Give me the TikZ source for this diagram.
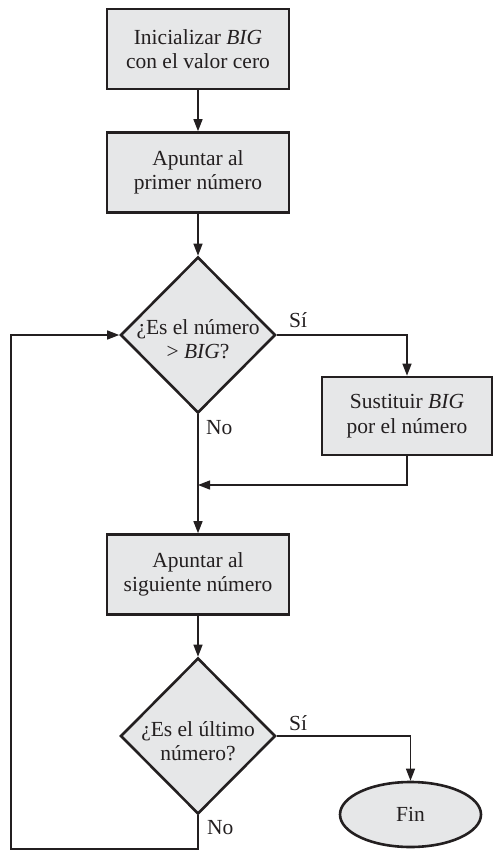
\documentclass[tikz,border=0pt]{standalone}
\usepackage{fontspec}
\setmainfont{Liberation Serif}
\usetikzlibrary{arrows.meta,shapes.geometric}
\definecolor{boxfill}{HTML}{E6E7E8}
\definecolor{ink}{HTML}{231F20}
\begin{document}
\begin{tikzpicture}[x=1pt,y=-1pt,
 every node/.style={font=\fontsize{21.5}{24.5}\selectfont, text=ink},
 procbox/.style={draw=ink, line width=2.6pt, fill=boxfill, minimum width=182pt, minimum height=80pt, inner sep=0pt, align=center},
 decbox/.style={draw=ink, line width=2.6pt, fill=boxfill, diamond, minimum width=155pt, minimum height=156pt, inner sep=0pt},
 endbox/.style={draw=ink, line width=2.6pt, fill=boxfill, ellipse, minimum width=141pt, minimum height=65pt, inner sep=0pt},
 conn/.style={draw=ink, line width=1.3pt, -{Triangle[length=12pt,width=9pt]}},
 lbl/.style={anchor=west, inner sep=0pt},
 intext/.style={align=center, inner sep=0pt}]
\useasboundingbox (0,0) rectangle (493,851);
\node[procbox] (b1) at (198,49) {Inicializar \textit{BIG}\\con el valor cero};
\node[procbox] (b2) at (198,172.5) {Apuntar al\\primer número};
\node[decbox] (d1) at (198,335) {};
\node[intext] (t1) at (198,339) {¿Es el número\\> \textit{BIG}?};
\node[procbox, minimum width=170pt, minimum height=78pt] (b3) at (407,416) {Sustituir \textit{BIG}\\por el número};
\node[procbox] (b4) at (198,574.5) {Apuntar al\\siguiente número};
\node[decbox] (d2) at (198,736) {};
\node[intext] (t2) at (198,741) {¿Es el último\\número?};
\node[endbox] (fin) at (410.5,814.5) {Fin};
\node[lbl] (s1) at (289,320) {Sí};
\node[lbl] (n1) at (206,428) {No};
\node[lbl] (s2) at (289,723) {Sí};
\node[lbl] (n2) at (207,828) {No};
\coordinate (j1) at (198,485);
\coordinate (lp) at (11,849);
\draw[conn] (b1) -- (b2);
\draw[conn] (b2) -- (d1.north);
\draw[conn] (d1.east) -| (b3.north);
\draw[conn] (d1.south) -- (b4.north);
\draw[conn] (b3.south) |- (j1);
\draw[conn] (b4) -- (d2.north);
\draw[conn] (d2.east) -| (fin.north);
\draw[conn] (d2.south) |- (lp) |- (d1.west);
\end{tikzpicture}
\end{document}
